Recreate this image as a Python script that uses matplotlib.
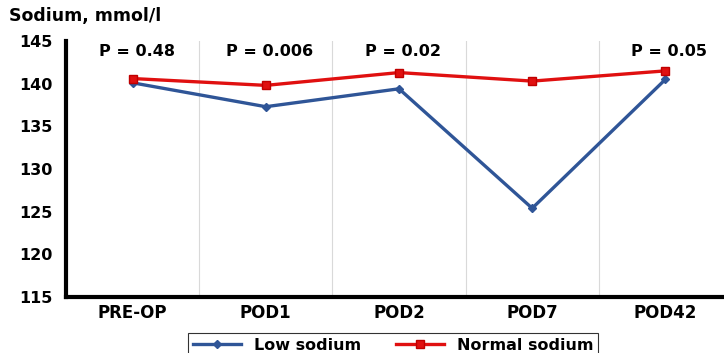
import matplotlib.pyplot as plt

categories = ["PRE-OP", "POD1", "POD2", "POD7", "POD42"]
low_sodium = [140.1, 137.3, 139.4, 125.4, 140.5]
normal_sodium = [140.6, 139.8, 141.3, 140.3, 141.5]
p_labels = ["P = 0.48", "P = 0.006", "P = 0.02", "", "P = 0.05"]
p_y = 143.8
yticks = [115, 120, 125, 130, 135, 140, 145]

plt.rcParams["font.family"] = ["DejaVu Sans"]
plt.rcParams["font.weight"] = "bold"

fig = plt.figure(figsize=(7.24, 3.53), dpi=100)
# axes spans from the y axis line to just past the right image edge
ax = fig.add_axes([66 / 724, 1 - 297 / 353, 666 / 724, (297 - 41) / 353])

x = list(range(len(categories)))
ax.plot(x, low_sodium, color="#2f5597", lw=2.4, marker="D", ms=4.5,
        label="Low sodium")
ax.plot(x, normal_sodium, color="#e01010", lw=2.4, marker="s", ms=5.5,
        mec="#c00000", label="Normal sodium")

for xi, lab in zip(x, p_labels):
    if lab:
        ax.text(xi + 0.03, p_y, lab, ha="center", va="center", fontsize=11.5,
                fontweight="bold")

ax.set_xlim(-0.5, len(categories) - 0.5)
ax.set_ylim(115, 145)
ax.set_yticks(yticks)
ax.set_xticks(x)
ax.set_xticklabels(categories)
for xb in [0.5, 1.5, 2.5, 3.5]:
    ax.axvline(xb, color="#d9d9d9", lw=0.8, zorder=0)

for side in ["top", "right"]:
    ax.spines[side].set_visible(False)
ax.spines["left"].set_linewidth(3)
ax.spines["bottom"].set_linewidth(3)
ax.tick_params(axis="y", length=0, labelsize=11.5, pad=10)
ax.tick_params(axis="x", length=0, labelsize=12, pad=5)
for t in ax.get_xticklabels() + ax.get_yticklabels():
    t.set_fontweight("bold")

fig.text(9 / 724, 1 - 16 / 353, "Sodium, mmol/l", fontsize=12.5,
         fontweight="bold", va="center", ha="left")

leg = fig.legend(loc="upper center", bbox_to_anchor=(393 / 724, 1 - 325 / 353),
                 ncol=2, frameon=True, fancybox=False, fontsize=11.5,
                 handlelength=3.0, columnspacing=2.2, borderpad=0.3)
leg.get_frame().set_edgecolor("black")
leg.get_frame().set_linewidth(0.8)
for t in leg.get_texts():
    t.set_fontweight("bold")

fig.savefig("out.png", dpi=100)
